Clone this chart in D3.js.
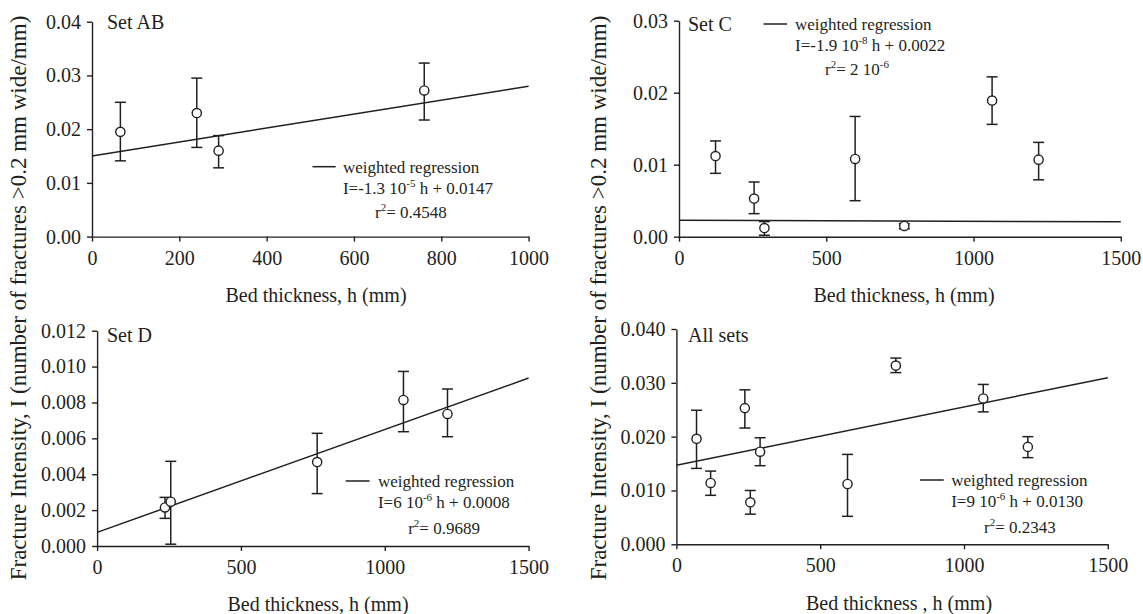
<!DOCTYPE html>
<html>
<head>
<meta charset="utf-8">
<script src="https://cdn.jsdelivr.net/npm/d3@7"></script>
<style>
  html, body { margin: 0; padding: 0; background: #fff; }
  svg { display: block; }
  text { font-family: "Liberation Serif", "Times New Roman", serif; fill: #231f20; }
</style>
</head>
<body>
<svg id="chart" width="1143" height="614"></svg>
<script>
// ---------- data ----------
// Set AB
const abH  = [65, 240, 290, 761];
const abI  = [0.0195, 0.0230, 0.0160, 0.0272];
const abLo = [0.0141, 0.0166, 0.0128, 0.0217];
const abHi = [0.0250, 0.0295, 0.0188, 0.0323];
const abReg = [[0, 0.0150], [1000, 0.0280]];

// Set C
const cH  = [124, 255, 290, 598, 765, 1063, 1221];
const cI  = [0.0112, 0.0053, 0.0012, 0.0108, 0.0015, 0.0189, 0.0107];
const cLo = [0.0088, 0.0032, 0.0002, 0.0050, 0.0011, 0.0156, 0.0079];
const cHi = [0.0133, 0.0076, 0.0021, 0.0167, 0.0018, 0.0222, 0.0131];
const cReg = [[0, 0.00227], [1500, 0.00208]];

// Set D
const dH  = [236, 256, 765, 1065, 1218];
const dI  = [0.00215, 0.00247, 0.00468, 0.00814, 0.00736];
const dLo = [0.00154, 0.0001, 0.00292, 0.00637, 0.00609];
const dHi = [0.00271, 0.00472, 0.00628, 0.00973, 0.00875];
const dReg = [[0, 0.00076], [1500, 0.00936]];

// All sets
const allH  = [70, 119, 238, 257, 291, 595, 763, 1067, 1222];
const allI  = [0.0196, 0.0114, 0.0253, 0.0078, 0.0172, 0.0112, 0.0332, 0.0271, 0.0181];
const allLo = [0.0141, 0.0091, 0.0216, 0.0056, 0.0146, 0.0052, 0.0319, 0.0246, 0.0161];
const allHi = [0.0249, 0.0136, 0.0287, 0.0100, 0.0198, 0.0167, 0.0346, 0.0297, 0.0200];
const allReg = [[0, 0.01467], [1500, 0.03096]];

// ticks
const xTicks1000 = [0, 200, 400, 600, 800, 1000];
const xTicks1500 = [0, 500, 1000, 1500];
const yTicksAB  = [0, 0.01, 0.02, 0.03, 0.04];
const yTicksC   = [0, 0.01, 0.02, 0.03];
const yTicksD   = [0, 0.002, 0.004, 0.006, 0.008, 0.010, 0.012];
const yTicksAll = [0, 0.010, 0.020, 0.030, 0.040];

// texts
const titles = ["Set AB", "Set C", "Set D", "All sets"];
const xLabels = ["Bed thickness, h (mm)", "Bed thickness, h (mm)", "Bed thickness, h (mm)", "Bed thickness , h (mm)"];
const yLabel = "Fracture Intensity, I (number of fractures >0.2 mm wide/mm)";
const legendName = "weighted regression";
const eqAB  = [["I=-1.3 10", 0], ["-5", 1], [" h + 0.0147", 0]];
const r2AB  = [["r", 0], ["2", 1], ["= 0.4548", 0]];
const eqC   = [["I=-1.9 10", 0], ["-8", 1], [" h + 0.0022", 0]];
const r2C   = [["r", 0], ["2", 1], ["= 2 10", 0], ["-6", 1]];
const eqD   = [["I=6 10", 0], ["-6", 1], [" h + 0.0008", 0]];
const r2D   = [["r", 0], ["2", 1], ["= 0.9689", 0]];
const eqAll = [["I=9 10", 0], ["-6", 1], [" h + 0.0130", 0]];
const r2All = [["r", 0], ["2", 1], ["= 0.2343", 0]];

// ---------- layout ----------
const panels = [
  { h: abH, I: abI, lo: abLo, hi: abHi, reg: abReg, xMax: 1000, yMax: 0.04, xt: xTicks1000, yt: yTicksAB, fmt: ".2f",
    x0: 92, x1: 528.6, yTop: 21.7, yBot: 236.6, title: titles[0], tx: 107, ty: 28.5,
    xl: xLabels[0], xlx: 316, xly: 302,
    leg: { lx0: 312.5, lx1: 335.7, tx: 342.9, rx: 375, y: [166.7, 188.3, 211.7] }, eq: eqAB, r2: r2AB },
  { h: cH, I: cI, lo: cLo, hi: cHi, reg: cReg, xMax: 1500, yMax: 0.03, xt: xTicks1500, yt: yTicksC, fmt: ".2f",
    x0: 679, x1: 1120.8, yTop: 20.7, yBot: 236.7, title: titles[1], tx: 688, ty: 31,
    xl: xLabels[1], xlx: 904, xly: 302,
    leg: { lx0: 763.5, lx1: 787, tx: 795, rx: 825, y: [24, 45, 69] }, eq: eqC, r2: r2C },
  { h: dH, I: dI, lo: dLo, hi: dHi, reg: dReg, xMax: 1500, yMax: 0.012, xt: xTicks1500, yt: yTicksD, fmt: ".3f",
    x0: 97.1, x1: 528.6, yTop: 330.7, yBot: 546, title: titles[2], tx: 107, ty: 342,
    xl: xLabels[2], xlx: 318, xly: 611,
    leg: { lx0: 345.7, lx1: 369.6, tx: 377.9, rx: 408.2, y: [481, 501.7, 527.7] }, eq: eqD, r2: r2D },
  { h: allH, I: allI, lo: allLo, hi: allHi, reg: allReg, xMax: 1500, yMax: 0.04, xt: xTicks1500, yt: yTicksAll, fmt: ".3f",
    x0: 676.4, x1: 1107.8, yTop: 329, yBot: 544.3, title: titles[3], tx: 688, ty: 342,
    xl: xLabels[3], xlx: 899, xly: 610,
    leg: { lx0: 920, lx1: 943.8, tx: 951.2, rx: 984, y: [480, 501, 526.7] }, eq: eqAll, r2: r2All }
];

const svg = d3.select("#chart");
const ink = "#231f20";

function richText(g, x, y, parts, size) {
  const t = g.append("text").attr("x", x).attr("y", y).style("font-size", size + "px");
  let raised = false;
  parts.forEach(([s, sup]) => {
    const ts = t.append("tspan").text(s);
    if (sup && !raised) { ts.attr("dy", -7).style("font-size", "11px"); raised = true; }
    else if (sup) { ts.style("font-size", "11px"); }
    else if (!sup && raised) { ts.attr("dy", 7); raised = false; }
  });
  return t;
}

panels.forEach(p => {
  const g = svg.append("g");
  const x = d3.scaleLinear().domain([0, p.xMax]).range([p.x0, p.x1]);
  const y = d3.scaleLinear().domain([0, p.yMax]).range([p.yBot, p.yTop]);

  const xAxis = g.append("g").attr("transform", `translate(0,${p.yBot})`)
    .call(d3.axisBottom(x).tickValues(p.xt).tickSize(5).tickSizeOuter(0).tickPadding(9).tickFormat(d3.format("d")));
  const yAxis = g.append("g").attr("transform", `translate(${p.x0},0)`)
    .call(d3.axisLeft(y).tickValues(p.yt).tickSize(5).tickSizeOuter(0).tickPadding(6).tickFormat(d3.format(p.fmt)));
  [xAxis, yAxis].forEach(a => {
    a.selectAll("path, line").attr("stroke", ink).attr("stroke-width", 1.4);
    a.selectAll("text").attr("fill", ink).style("font-size", "20px")
      .style("font-family", '"Liberation Serif", "Times New Roman", serif');
  });

  // regression line
  g.append("path")
    .datum(p.reg)
    .attr("d", d3.line().x(d => x(d[0])).y(d => y(d[1])))
    .attr("fill", "none").attr("stroke", ink).attr("stroke-width", 1.5);

  // error bars
  const pts = p.h.map((h, i) => ({ h, I: p.I[i], lo: p.lo[i], hi: p.hi[i] }));
  const eb = g.append("g").attr("stroke", ink).attr("stroke-width", 1.5);
  pts.forEach(d => {
    eb.append("line").attr("x1", x(d.h)).attr("x2", x(d.h)).attr("y1", y(d.lo)).attr("y2", y(d.hi));
    eb.append("line").attr("x1", x(d.h) - 5.5).attr("x2", x(d.h) + 5.5).attr("y1", y(d.lo)).attr("y2", y(d.lo));
    eb.append("line").attr("x1", x(d.h) - 5.5).attr("x2", x(d.h) + 5.5).attr("y1", y(d.hi)).attr("y2", y(d.hi));
  });
  g.append("g").selectAll("circle").data(pts).join("circle")
    .attr("cx", d => x(d.h)).attr("cy", d => y(d.I)).attr("r", 4.6)
    .attr("fill", "#fff").attr("stroke", ink).attr("stroke-width", 1.4);

  // title
  g.append("text").attr("x", p.tx).attr("y", p.ty).style("font-size", "20px").text(p.title);

  // x label
  g.append("text").attr("x", p.xlx).attr("y", p.xly).attr("text-anchor", "middle")
    .style("font-size", "20px").text(p.xl);

  // legend
  const L = p.leg;
  g.append("line").attr("x1", L.lx0).attr("x2", L.lx1).attr("y1", L.y[0]).attr("y2", L.y[0])
    .attr("stroke", ink).attr("stroke-width", 1.5);
  g.append("text").attr("x", L.tx).attr("y", L.y[0] + 6).style("font-size", "17px").text(legendName);
  richText(g, L.tx, L.y[1] + 6, p.eq, 17);
  richText(g, L.rx, L.y[2] + 6, p.r2, 17);
});

// shared y labels
[18, 598].forEach(cx => {
  svg.append("text")
    .attr("transform", `translate(${cx},298) rotate(-90)`)
    .attr("text-anchor", "middle").attr("dominant-baseline", "central")
    .style("font-size", "23px").text(yLabel);
});
</script>
</body>
</html>
